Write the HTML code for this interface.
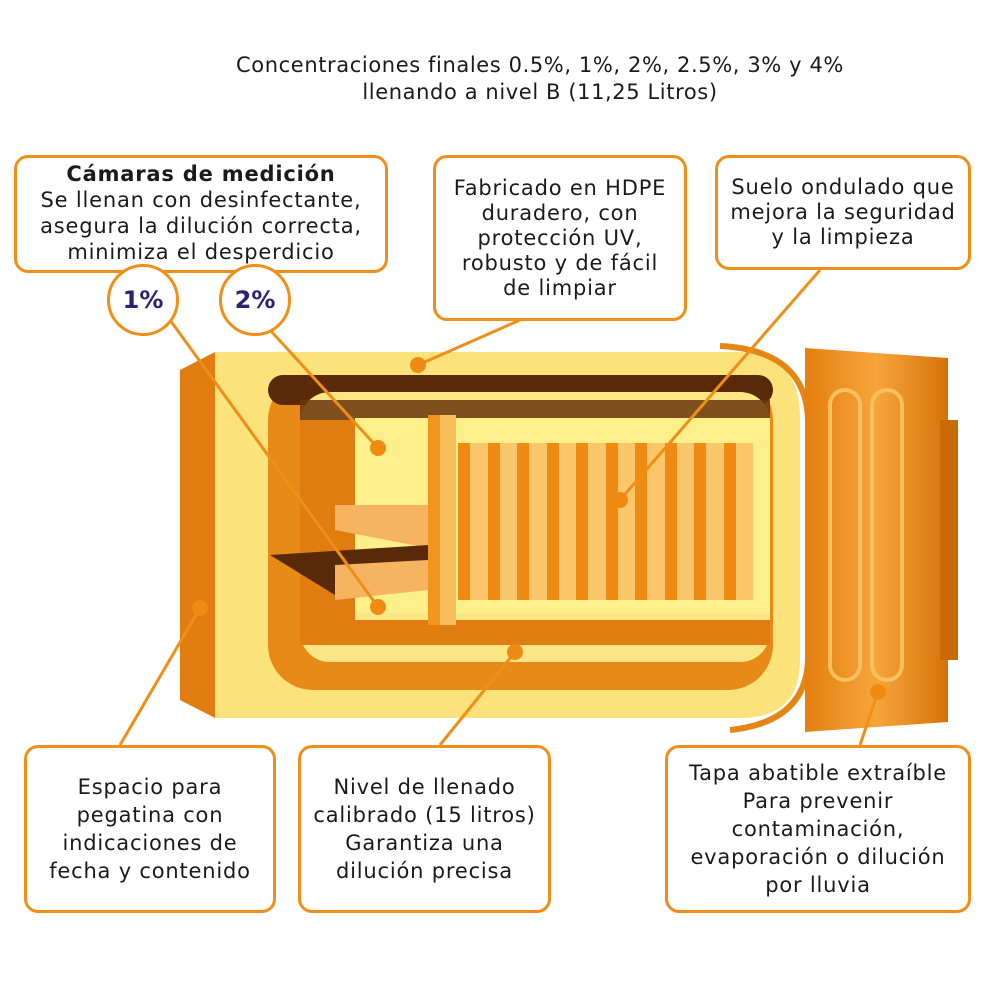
<!DOCTYPE html>
<html><head><meta charset="utf-8"><style>
body{margin:0;background:#fff;}
.w{position:relative;width:992px;height:992px;overflow:hidden;font-family:"DejaVu Sans","Liberation Sans",sans-serif;color:#1a1a1a;}
.t{position:absolute;text-align:center;font-size:21px;line-height:27px;letter-spacing:0.6px;}
.b{position:absolute;border:3px solid #ef8f1a;border-radius:14px;background:#fff;box-sizing:border-box;display:flex;align-items:center;justify-content:center;text-align:center;font-size:21px;line-height:28px;letter-spacing:0.8px;white-space:nowrap;}
.c{position:absolute;width:72px;height:72px;border:3px solid #ef8f1a;border-radius:50%;background:#fff;box-sizing:border-box;display:flex;align-items:center;justify-content:center;font-weight:bold;font-size:24px;color:#2a2370;}
</style></head><body><div class="w">
<div class="t" style="left:0;width:1080px;top:52px;">Concentraciones finales 0.5%, 1%, 2%, 2.5%, 3% y 4%<br>llenando a nivel B (11,25 Litros)</div>
<svg width="992" height="992" style="position:absolute;left:0;top:0">
<defs>
<linearGradient id="lid" x1="0" x2="1"><stop offset="0" stop-color="#e57f10"/><stop offset=".5" stop-color="#f6a53a"/><stop offset="1" stop-color="#d67208"/></linearGradient>
</defs>
<polygon points="180,370 215,352 215,718 180,700" fill="#e07c10"/>
<path d="M215,352 H740 Q800,352 800,420 V660 Q800,718 740,718 H215 Z" fill="#fbe27a"/>
<path d="M720,346 Q806,350 808,420 V660 Q806,722 730,730" fill="none" stroke="#e58614" stroke-width="6"/>
<rect x="268" y="375" width="505" height="315" rx="45" fill="#e88a18"/>
<rect x="268" y="375" width="505" height="30" rx="15" fill="#5a2a08"/>
<rect x="300" y="392" width="470" height="270" rx="30" fill="#fbe584"/>
<rect x="300" y="400" width="470" height="20" fill="#6a350c" opacity=".85"/>
<rect x="300" y="620" width="470" height="25" fill="#e07c10"/>
<rect x="300" y="420" width="55" height="210" fill="#e07c10"/>
<rect x="355" y="418" width="415" height="195" fill="#fdf08a"/>
<polygon points="335,505 428,505 428,548 335,530" fill="#f6b460"/>
<polygon points="270,555 428,545 428,575 335,595" fill="#5a2a08"/>
<polygon points="335,565 428,560 428,590 335,600" fill="#f6b460"/>
<rect x="428" y="415" width="28" height="210" fill="#f2951c"/>
<rect x="440" y="415" width="16" height="210" fill="#f8be5c"/>
<rect x="458" y="443" width="295" height="157" fill="#f9c66a"/>
<g fill="#ef8a12">
<rect x="458" y="443" width="12" height="157"/><rect x="488" y="443" width="12" height="157"/><rect x="517" y="443" width="12" height="157"/><rect x="547" y="443" width="12" height="157"/><rect x="576" y="443" width="12" height="157"/><rect x="606" y="443" width="12" height="157"/><rect x="635" y="443" width="12" height="157"/><rect x="665" y="443" width="12" height="157"/><rect x="694" y="443" width="12" height="157"/><rect x="724" y="443" width="12" height="157"/>
</g>
<polygon points="805,348 948,358 948,722 805,732" fill="url(#lid)"/>
<rect x="940" y="420" width="18" height="240" fill="#c96a06"/>
<rect x="830" y="390" width="30" height="290" rx="15" fill="none" stroke="#f9c060" stroke-width="4"/>
<rect x="872" y="390" width="30" height="290" rx="15" fill="none" stroke="#f9c060" stroke-width="4"/>
<g stroke="#ef8f1a" stroke-width="3" fill="none">
<line x1="170" y1="320" x2="378" y2="607"/>
<line x1="270" y1="330" x2="378" y2="448"/>
<line x1="520" y1="320" x2="418" y2="365"/>
<line x1="820" y1="270" x2="620" y2="500"/>
<line x1="120" y1="745" x2="200" y2="608"/>
<line x1="440" y1="745" x2="515" y2="652"/>
<line x1="860" y1="745" x2="878" y2="692"/>
</g>
<g fill="#ef8a12">
<circle cx="378" cy="607" r="8"/><circle cx="378" cy="448" r="8"/><circle cx="418" cy="365" r="8"/><circle cx="620" cy="500" r="8"/><circle cx="200" cy="608" r="8"/><circle cx="515" cy="652" r="8"/><circle cx="878" cy="692" r="8"/>
</g>
</svg>
<div class="b" style="left:14px;top:155px;width:374px;height:118px;line-height:26px;align-items:flex-start;padding-top:3px;"><div><b>Cámaras de medición</b><br>Se llenan con desinfectante,<br>asegura la dilución correcta,<br>minimiza el desperdicio</div></div>
<div class="c" style="left:107px;top:264px;">1%</div>
<div class="c" style="left:219px;top:264px;">2%</div>
<div class="b" style="left:433px;top:155px;width:254px;height:166px;line-height:25px;"><div>Fabricado en HDPE<br>duradero, con<br>protección UV,<br>robusto y de fácil<br>de limpiar</div></div>
<div class="b" style="left:715px;top:155px;width:256px;height:115px;line-height:25px;"><div>Suelo ondulado que<br>mejora la seguridad<br>y la limpieza</div></div>
<div class="b" style="left:24px;top:745px;width:252px;height:168px;"><div>Espacio para<br>pegatina con<br>indicaciones de<br>fecha y contenido</div></div>
<div class="b" style="left:298px;top:745px;width:253px;height:168px;"><div>Nivel de llenado<br>calibrado (15 litros)<br>Garantiza una<br>dilución precisa</div></div>
<div class="b" style="left:665px;top:745px;width:306px;height:168px;"><div>Tapa abatible extraíble<br>Para prevenir<br>contaminación,<br>evaporación o dilución<br>por lluvia</div></div>
</div></body></html>
